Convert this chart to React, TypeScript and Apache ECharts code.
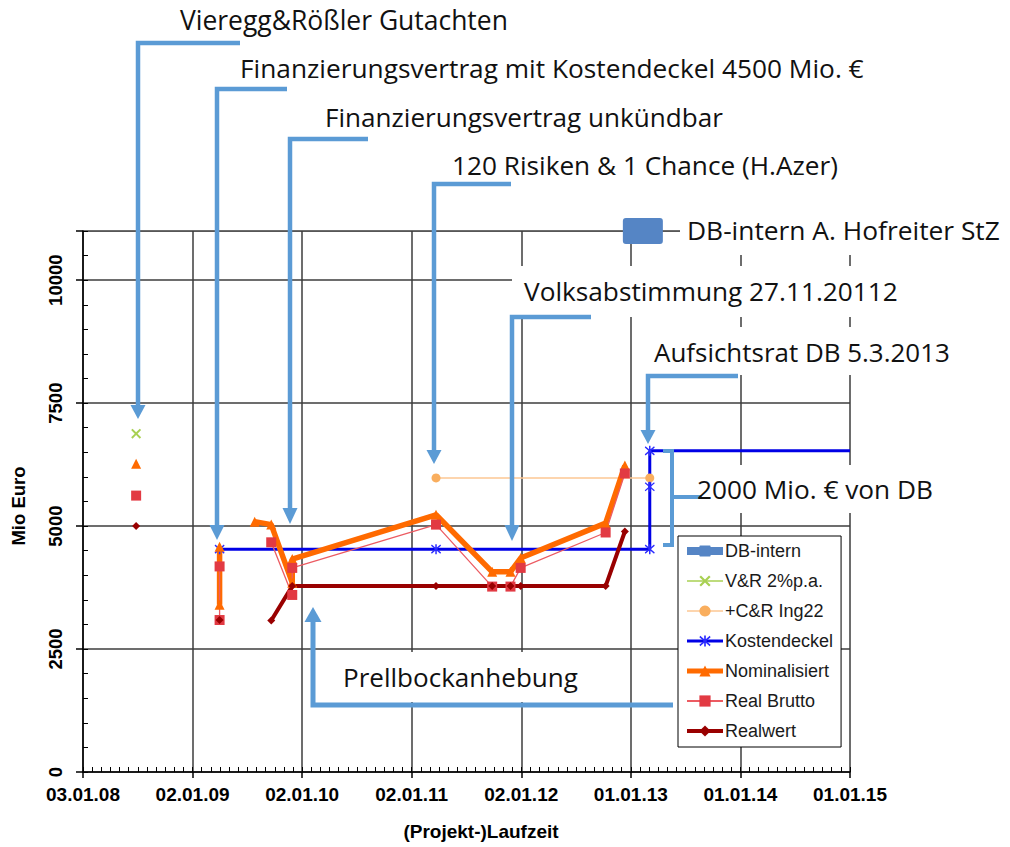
import React, { useEffect, useRef } from "react";
import * as echarts from "echarts";

// ---------- data ----------
const BASE = Date.UTC(2008, 0, 3);
const DAY = 86400000;
const X_MAX_DAYS = 2555; // 01.01.15
const X_INTERVAL = 365;

const dbInternDates: (string | null)[] = ["2013-02-10"];
const dbInternValues: (number | null)[] = [11000];

const vrDates: (string | null)[] = ["2008-06-28"];
const vrValues: (number | null)[] = [6880];

const crDates: (string | null)[] = ["2011-03-24", "2013-03-05"];
const crValues: (number | null)[] = [5980, 5980];

const kdDates: (string | null)[] = ["2009-04-02", "2011-03-24", "2013-03-05", "2013-03-05", "2013-03-05", "2015-01-01"];
const kdValues: (number | null)[] = [4530, 4530, 4530, 5800, 6530, 6530];

const nomDates: (string | null)[] = [
  "2008-06-28", null, "2009-04-02", "2009-04-02", null, "2009-07-28", "2009-09-21", "2009-11-30", "2009-11-30",
  "2011-03-24", "2011-09-27", "2011-11-27", "2011-12-31", "2012-10-09", "2012-12-12",
];
const nomValues: (number | null)[] = [6270, null, 3400, 4580, null, 5090, 5030, 3850, 4330, 5230, 4070, 4070, 4350, 5060, 6230];

const rbDates: (string | null)[] = [
  "2008-06-28", null, "2009-04-02", "2009-04-02", null, "2009-09-21", "2009-11-30", "2009-11-30",
  "2011-03-24", "2011-09-27", "2011-11-27", "2011-12-31", "2012-10-09", "2012-12-12",
];
const rbValues: (number | null)[] = [5620, null, 3090, 4180, null, 4670, 3600, 4150, 5030, 3770, 3770, 4150, 4870, 6070];

const rwDates: (string | null)[] = [
  "2008-06-28", null, "2009-04-02", null, "2009-09-21", "2009-11-30", "2011-03-24", "2011-09-27",
  "2011-11-27", "2011-12-31", "2012-10-09", "2012-12-12",
];
const rwValues: (number | null)[] = [5000, null, 3090, null, 3080, 3780, 3780, 3780, 3780, 3780, 3780, 4890];

const legendNames = ["DB-intern", "V&R 2%p.a.", "+C&R Ing22", "Kostendeckel", "Nominalisiert", "Real Brutto", "Realwert"];

const annotationTexts = [
  "Vieregg&Rößler Gutachten",
  "Finanzierungsvertrag mit Kostendeckel 4500 Mio. €",
  "Finanzierungsvertrag unkündbar",
  "120 Risiken & 1 Chance (H.Azer)",
  "DB-intern A. Hofreiter StZ",
  "Volksabstimmung 27.11.20112",
  "Aufsichtsrat DB 5.3.2013",
  "2000 Mio. € von DB",
  "Prellbockanhebung",
];

// ---------- helpers ----------
const toDay = (s: string) => {
  const [y, m, dd] = s.split("-").map(Number);
  return Math.round((Date.UTC(y, m - 1, dd) - BASE) / DAY);
};
const pts = (dates: (string | null)[], values: (number | null)[]) =>
  dates.map((dt, i) => (dt === null || values[i] === null ? ["-", "-"] : [toDay(dt), values[i] as number]));

const fmtDate = (v: number) => {
  const dt = new Date(BASE + v * DAY);
  const p = (n: number) => String(n).padStart(2, "0");
  return `${p(dt.getUTCDate())}.${p(dt.getUTCMonth() + 1)}.${p(dt.getUTCFullYear() % 100)}`;
};

const X_PATH = "path://M0,1.4L1.4,0L5,3.6L8.6,0L10,1.4L6.4,5L10,8.6L8.6,10L5,6.4L1.4,10L0,8.6L3.6,5Z";
const AST_PATH =
  "path://M4.3,0H5.7V10H4.3Z M0.3,1.6L1.0,0.4L9.7,8.4L9.0,9.6Z M9.0,0.4L9.7,1.6L1.0,9.6L0.3,8.4Z";
const RR_PATH = "path://M3,0H37Q40,0 40,3V23Q40,26 37,26H3Q0,26 0,23V3Q0,0 3,0Z";

const ACC = "#5b9bd5";
const ANN_FONT = '"Open Sans"';

export default function App() {
  const ref = useRef<HTMLDivElement>(null);

  useEffect(() => {
    document.body.style.margin = "0";
    const chart = echarts.init(ref.current!, null, { renderer: "svg" });

    const canvas = document.createElement("canvas");
    const ctx = canvas.getContext("2d")!;
    const fit = (text: string, width: number) => {
      ctx.font = `100px ${ANN_FONT}`;
      const w = ctx.measureText(text).width || 1;
      const s = (100 * width) / w;
      return Math.max(20, Math.min(28, s));
    };

    // layout of annotation texts: [left, right, centerY]
    const annLayout: [number, number, number][] = [
      [180, 508, 19.5],
      [240, 864, 68],
      [325, 723, 117],
      [452, 838, 165],
      [687, 1000, 230],
      [524, 898, 291],
      [654, 950, 352],
      [697, 933, 489],
      [343, 578, 677],
    ];

    const annText = annotationTexts.map((t, i) => {
      const [l, r, cy] = annLayout[i];
      return {
        type: "text",
        x: l,
        y: cy,
        z: 20,
        silent: true,
        style: {
          text: t,
          fontSize: fit(t, r - l),
          fontFamily: ANN_FONT,
          fill: "#111",
          align: "left",
          verticalAlign: "middle",
          textAlign: "left",
          textVerticalAlign: "middle",
        },
      };
    });

    const box = (x: number, y: number, w: number, h: number) => ({
      type: "rect",
      z: 1,
      silent: true,
      shape: { x, y, width: w, height: h },
      style: { fill: "#fff" },
    });
    const conn = (points: number[][], lw = 4.5) => ({
      type: "polyline",
      z: 15,
      silent: true,
      shape: { points },
      style: { stroke: ACC, lineWidth: lw, fill: null, lineJoin: "miter" },
    });
    const head = (x: number, yBase: number, yTip: number, w = 15) => ({
      type: "polygon",
      z: 15,
      silent: true,
      shape: { points: [[x - w / 2, yBase], [x + w / 2, yBase], [x, yTip]] },
      style: { fill: ACC },
    });

    const graphics: any[] = [
      box(680, 210, 328, 45),
      box(512, 266, 395, 51),
      box(645, 327, 313, 48),
      box(690, 465, 250, 48),
      box(338, 652, 262, 50),
      {
        type: "line",
        z: 0,
        silent: true,
        shape: { x1: 83, y1: 231.5, x2: 850, y2: 231.5 },
        style: { stroke: "#a6a6a6", lineWidth: 1.2 },
      },
      conn([[240, 43], [138, 43], [138, 406]]),
      head(138, 405, 419),
      conn([[287, 89], [217, 89], [217, 526]]),
      head(217, 525, 540),
      conn([[368, 139], [290, 139], [290, 509]]),
      head(290, 508, 524),
      conn([[511, 184], [434, 184], [434, 451]]),
      head(434, 450, 464),
      conn([[591, 317], [512, 317], [512, 526]]),
      head(512, 525, 541),
      conn([[738, 376], [648, 376], [648, 431]]),
      head(648, 430, 444),
      conn([[673, 705], [313, 705], [313, 621]], 5),
      head(313, 622, 607, 17),
      conn([[663, 451], [672, 451], [672, 545], [663, 545]], 4),
      conn([[672, 497], [702, 497]], 4),
      {
        type: "text",
        x: 18,
        y: 506,
        rotation: Math.PI / 2,
        z: 20,
        silent: true,
        style: {
          text: "Mio Euro",
          fontSize: 18.5,
          fontWeight: "bold",
          fontFamily: '"Liberation Sans", Arial',
          fill: "#000",
          align: "center",
          verticalAlign: "middle",
          textAlign: "center",
          textVerticalAlign: "middle",
        },
      },
      {
        type: "text",
        x: 481,
        y: 831,
        z: 20,
        silent: true,
        style: {
          text: "(Projekt-)Laufzeit",
          fontSize: 19,
          fontWeight: "bold",
          fontFamily: '"Liberation Sans", Arial',
          fill: "#000",
          align: "center",
          verticalAlign: "middle",
          textAlign: "center",
          textVerticalAlign: "middle",
        },
      },
      ...annText,
    ];

    const kdData: any[] = pts(kdDates, kdValues);
    kdData[kdData.length - 1] = { value: kdData[kdData.length - 1], symbol: "none" };

    const gridColor = "#3c3c3c";
    const gridWidth = 1.5;
    const axisFont = '"Liberation Sans", Arial';
    const legendLineWidths = [8, 1.5, 1.5, 3, 5, 2, 4];

    const option: any = {
      animation: false,
      backgroundColor: "#fff",
      grid: { left: 83, top: 231, width: 767, height: 541, containLabel: false, outerBoundsMode: "none" },
      xAxis: [
        {
          type: "value",
          min: 0,
          max: X_MAX_DAYS,
          interval: X_INTERVAL,
          position: "bottom",
          axisLine: { show: true, lineStyle: { color: "#000", width: 1.5 } },
          axisTick: { show: true, inside: true, length: 5, lineStyle: { color: "#000" } },
          minorTick: { show: true, splitNumber: 12, length: 5, lineStyle: { color: "#000" } },
          splitLine: { show: true, lineStyle: { color: gridColor, width: gridWidth } },
          axisLabel: {
            formatter: (v: number) => fmtDate(v),
            fontSize: 19,
            fontWeight: "bold",
            fontFamily: axisFont,
            color: "#000",
            margin: 12.5,
            showMinLabel: true,
            showMaxLabel: true,
          },
        },
        {
          type: "value",
          min: 0,
          max: X_MAX_DAYS,
          interval: X_INTERVAL,
          position: "bottom",
          offset: 0,
          axisLine: { show: false },
          axisTick: { show: true, inside: false, length: 6, lineStyle: { color: "#000", width: 1.5 } },
          splitLine: { show: false },
          axisLabel: { show: false },
        },
      ],
      yAxis: [
        {
          type: "value",
          min: 0,
          max: 11000,
          interval: 2500,
          position: "left",
          axisLine: { show: true, lineStyle: { color: "#000", width: 1.5 } },
          axisTick: { show: true, inside: true, length: 5, lineStyle: { color: "#000" } },
          minorTick: { show: true, splitNumber: 5, length: 5, lineStyle: { color: "#000" } },
          splitLine: { show: true, lineStyle: { color: gridColor, width: gridWidth } },
          axisLabel: {
            formatter: (v: number) => String(v),
            rotate: 90,
            fontSize: 18.5,
            fontWeight: "bold",
            fontFamily: axisFont,
            color: "#000",
            margin: 18,
            showMaxLabel: false,
          },
        },
        {
          type: "value",
          min: 0,
          max: 11000,
          interval: 2500,
          position: "left",
          offset: 0,
          axisLine: { show: false },
          axisTick: { show: true, inside: false, length: 7, lineStyle: { color: "#000", width: 1.5 } },
          splitLine: { show: false },
          axisLabel: { show: false },
        },
      ],
      legend: {
        show: true,
        orient: "vertical",
        left: 678,
        top: 536,
        padding: [6, 8, 7, 5],
        itemGap: 12,
        itemWidth: 36,
        itemHeight: 14,
        backgroundColor: "#fff",
        borderColor: "#000",
        borderWidth: 1,
        selectedMode: false,
        textStyle: { fontSize: 18, fontFamily: axisFont, color: "#1a1a1a", padding: [0, 0, 0, -3] },
        data: legendNames.map((n, i) => ({ name: n, lineStyle: { width: legendLineWidths[i] } })),
      },
      graphic: { elements: graphics },
      series: [
        {
          name: "DB-intern",
          type: "line",
          data: pts(dbInternDates, dbInternValues),
          symbol: RR_PATH,
          symbolSize: [40, 26],
          itemStyle: { color: "#5585c5" },
          lineStyle: { color: "#5585c5", width: 8 },
          z: 3,
        },
        {
          name: "V&R 2%p.a.",
          type: "line",
          data: pts(vrDates, vrValues),
          symbol: X_PATH,
          symbolSize: 10,
          itemStyle: { color: "#a8d052" },
          lineStyle: { color: "#a8d052", width: 1.5 },
        },
        {
          name: "+C&R Ing22",
          type: "line",
          data: pts(crDates, crValues),
          symbol: "circle",
          symbolSize: 9,
          itemStyle: { color: "#f9ae5e" },
          lineStyle: { color: "#fcc793", width: 1.5 },
        },
        {
          name: "Kostendeckel",
          type: "line",
          data: kdData,
          symbol: AST_PATH,
          symbolSize: 10,
          itemStyle: { color: "#2a2aff" },
          lineStyle: { color: "#0000e6", width: 3 },
        },
        {
          name: "Nominalisiert",
          type: "line",
          data: pts(nomDates, nomValues),
          symbol: "triangle",
          symbolSize: 10,
          itemStyle: { color: "#ff6a00" },
          lineStyle: { color: "#ff6a00", width: 5.5 },
        },
        {
          name: "Real Brutto",
          type: "line",
          data: pts(rbDates, rbValues),
          symbol: "rect",
          symbolSize: 10,
          itemStyle: { color: "#e23a43" },
          lineStyle: { color: "#ec5b62", width: 1.3 },
        },
        {
          name: "Realwert",
          type: "line",
          data: pts(rwDates, rwValues),
          symbol: "diamond",
          symbolSize: 8,
          itemStyle: { color: "#990000" },
          lineStyle: { color: "#990000", width: 4 },
        },
      ],
    };

    chart.setOption(option);
    return () => chart.dispose();
  }, []);

  return <div ref={ref} style={{ width: 1010, height: 847 }} />;
}
